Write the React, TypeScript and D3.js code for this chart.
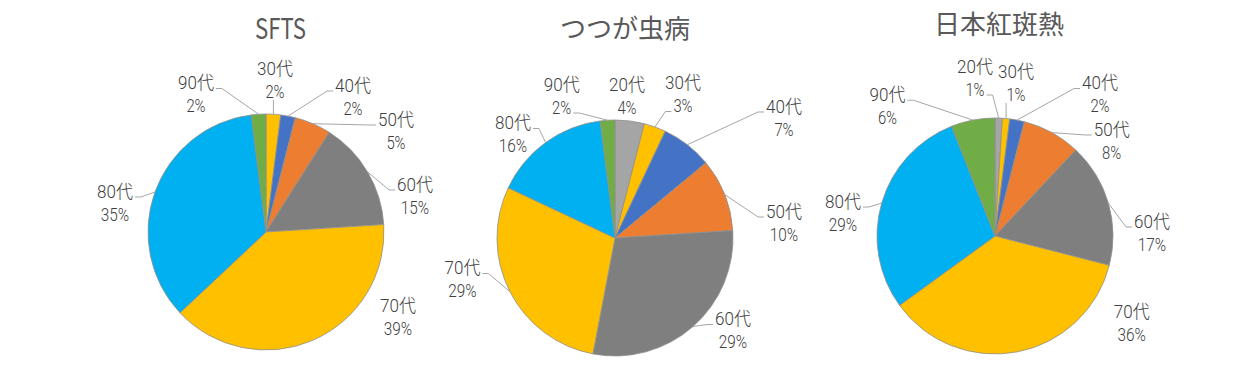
import React from 'react';
import * as d3 from 'd3';

// ---- data ----
const titles = ['SFTS', 'つつが虫病', '日本紅斑熱'];
const agesSfts = ['30代', '40代', '50代', '60代', '70代', '80代', '90代'];
const valuesSfts = [2, 2, 5, 15, 39, 35, 2];
const agesTsutsu = ['20代', '30代', '40代', '50代', '60代', '70代', '80代', '90代'];
const valuesTsutsu = [4, 3, 7, 10, 29, 29, 16, 2];
const agesJsf = ['20代', '30代', '40代', '50代', '60代', '70代', '80代', '90代'];
const valuesJsf = [1, 1, 2, 8, 17, 36, 29, 6];

// ---- styles ----
const ageColors: Record<string, string> = {
  '20代': '#A5A5A5',
  '30代': '#FFC000',
  '40代': '#4472C4',
  '50代': '#ED7D31',
  '60代': '#7F7F7F',
  '70代': '#FFC000',
  '80代': '#00B0F0',
  '90代': '#70AD47',
};

// ---- layout (label offsets relative to pie centre: dx, dy, leader side, leader row) ----
type Lbl = [number, number, string, number];
const layout: { cx: number; cy: number; tx: number; ty: number; tsize: number; tlen?: number; labels: Lbl[] }[] = [
  {
    cx: 266, cy: 232, tx: 280.5, ty: 39, tsize: 28, tlen: 51,
    labels: [[9, -164, 'b', 2], [87, -147, 'l', 1], [130, -113, 'l', 1], [149, -48, 'l', 1], [132, 73, 'n', 1], [-151, -41, 'r', 1], [-70, -149.5, 'r', 1]],
  },
  {
    cx: 615, cy: 238, tx: 625, ty: 38, tsize: 26,
    labels: [[12, -154, 'n', 1], [68, -155.5, 'l', 2], [169, -132, 'l', 1], [169, -27, 'l', 1], [118, 80.5, 'l', 1], [-152.5, 29.5, 'r', 1], [-102, -115.5, 'r', 1], [-53.3, -154, 'r', 2]],
  },
  {
    cx: 995, cy: 236, tx: 999, ty: 34, tsize: 26,
    labels: [[-20, -170, 'r', 2], [21, -165, 'b', 2], [105, -153.5, 'l', 1], [116.7, -107, 'l', 1], [157, -15, 'l', 1], [136.7, 75.7, 'n', 1], [-152, -35, 'r', 1], [-107.5, -141.8, 'r', 1]],
  },
];

const R = 118;
const LINE_GAP = 23;
const FONT = '"Noto Sans CJK JP", "Noto Sans", sans-serif';
const LABEL_FONT = 'Roboto, "Noto Sans CJK JP", sans-serif';

function textWidth(s: string): number {
  let w = 0;
  for (const ch of s) {
    if (/[0-9]/.test(ch)) w += 9.2;
    else if (ch === '%') w += 10;
    else w += 17.5;
  }
  return w;
}

function Pie({ idx, ages, values }: { idx: number; ages: string[]; values: number[] }) {
  const L = layout[idx];
  const total = d3.sum(values);
  const pie = d3.pie<number>().sort(null).value((d) => d).startAngle(0).endAngle(2 * Math.PI);
  const arcs = pie(values);
  const arc = d3.arc<d3.PieArcDatum<number>>().innerRadius(0).outerRadius(R);

  return (
    <g>
      <text
        x={L.tx}
        y={L.ty}
        textAnchor="middle"
        fontFamily={FONT}
        fontSize={L.tsize}
        fill="#595959"
        {...(L.tlen ? { textLength: L.tlen, lengthAdjust: 'spacingAndGlyphs' } : {})}
      >
        {titles[idx]}
      </text>
      <g transform={`translate(${L.cx},${L.cy})`}>
        {arcs.map((a, i) => (
          <path key={i} d={arc(a) || ''} fill={ageColors[ages[i]]} stroke="#8f8f8f" strokeWidth={0.8} />
        ))}
      </g>
      {arcs.map((a, i) => {
        const [dx, dy, side, row] = L.labels[i];
        const lx = L.cx + dx;
        const ly1 = L.cy + dy;
        const ly2 = ly1 + LINE_GAP;
        const t1 = ages[i];
        const t2 = Math.round((values[i] / total) * 100) + '%';
        const w1 = textWidth(t1);
        const w2 = textWidth(t2);
        const mid = (a.startAngle + a.endAngle) / 2;
        const px = L.cx + R * Math.sin(mid);
        const py = L.cy - R * Math.cos(mid);
        let leader: string | null = null;
        const wRow = row === 1 ? w1 : w2;
        const yRow = (row === 1 ? ly1 : ly2) + 6;
        if (side === 'l') {
          const ax = lx - wRow / 2 - 2;
          leader = `M${ax},${yRow}L${ax - 6},${yRow}L${px},${py}`;
        } else if (side === 'r') {
          const ax = lx + wRow / 2 + 2;
          leader = `M${ax},${yRow}L${ax + 6},${yRow}L${px},${py}`;
        } else if (side === 'b') {
          leader = `M${px},${ly2 + 9}L${px},${py}`;
        }
        return (
          <g key={'l' + i}>
            {leader && <path d={leader} fill="none" stroke="#A6A6A6" strokeWidth={1} />}
            <text
              textAnchor="middle"
              fontFamily={LABEL_FONT}
              fontWeight={300}
              fontSize={18}
              fill="#404040"
            >
              <tspan x={lx} y={ly1 + 6.5} textLength={w1} lengthAdjust="spacingAndGlyphs">
                {t1}
              </tspan>
              <tspan x={lx} y={ly2 + 6.5} textLength={w2} lengthAdjust="spacingAndGlyphs">
                {t2}
              </tspan>
            </text>
          </g>
        );
      })}
    </g>
  );
}

export default function App() {
  return (
    <svg
      width={1239}
      height={377}
      style={{ position: 'absolute', left: 0, top: 0, background: '#fff' }}
    >
      <rect x={0} y={0} width={1239} height={377} fill="#fff" />
      <Pie idx={0} ages={agesSfts} values={valuesSfts} />
      <Pie idx={1} ages={agesTsutsu} values={valuesTsutsu} />
      <Pie idx={2} ages={agesJsf} values={valuesJsf} />
    </svg>
  );
}
